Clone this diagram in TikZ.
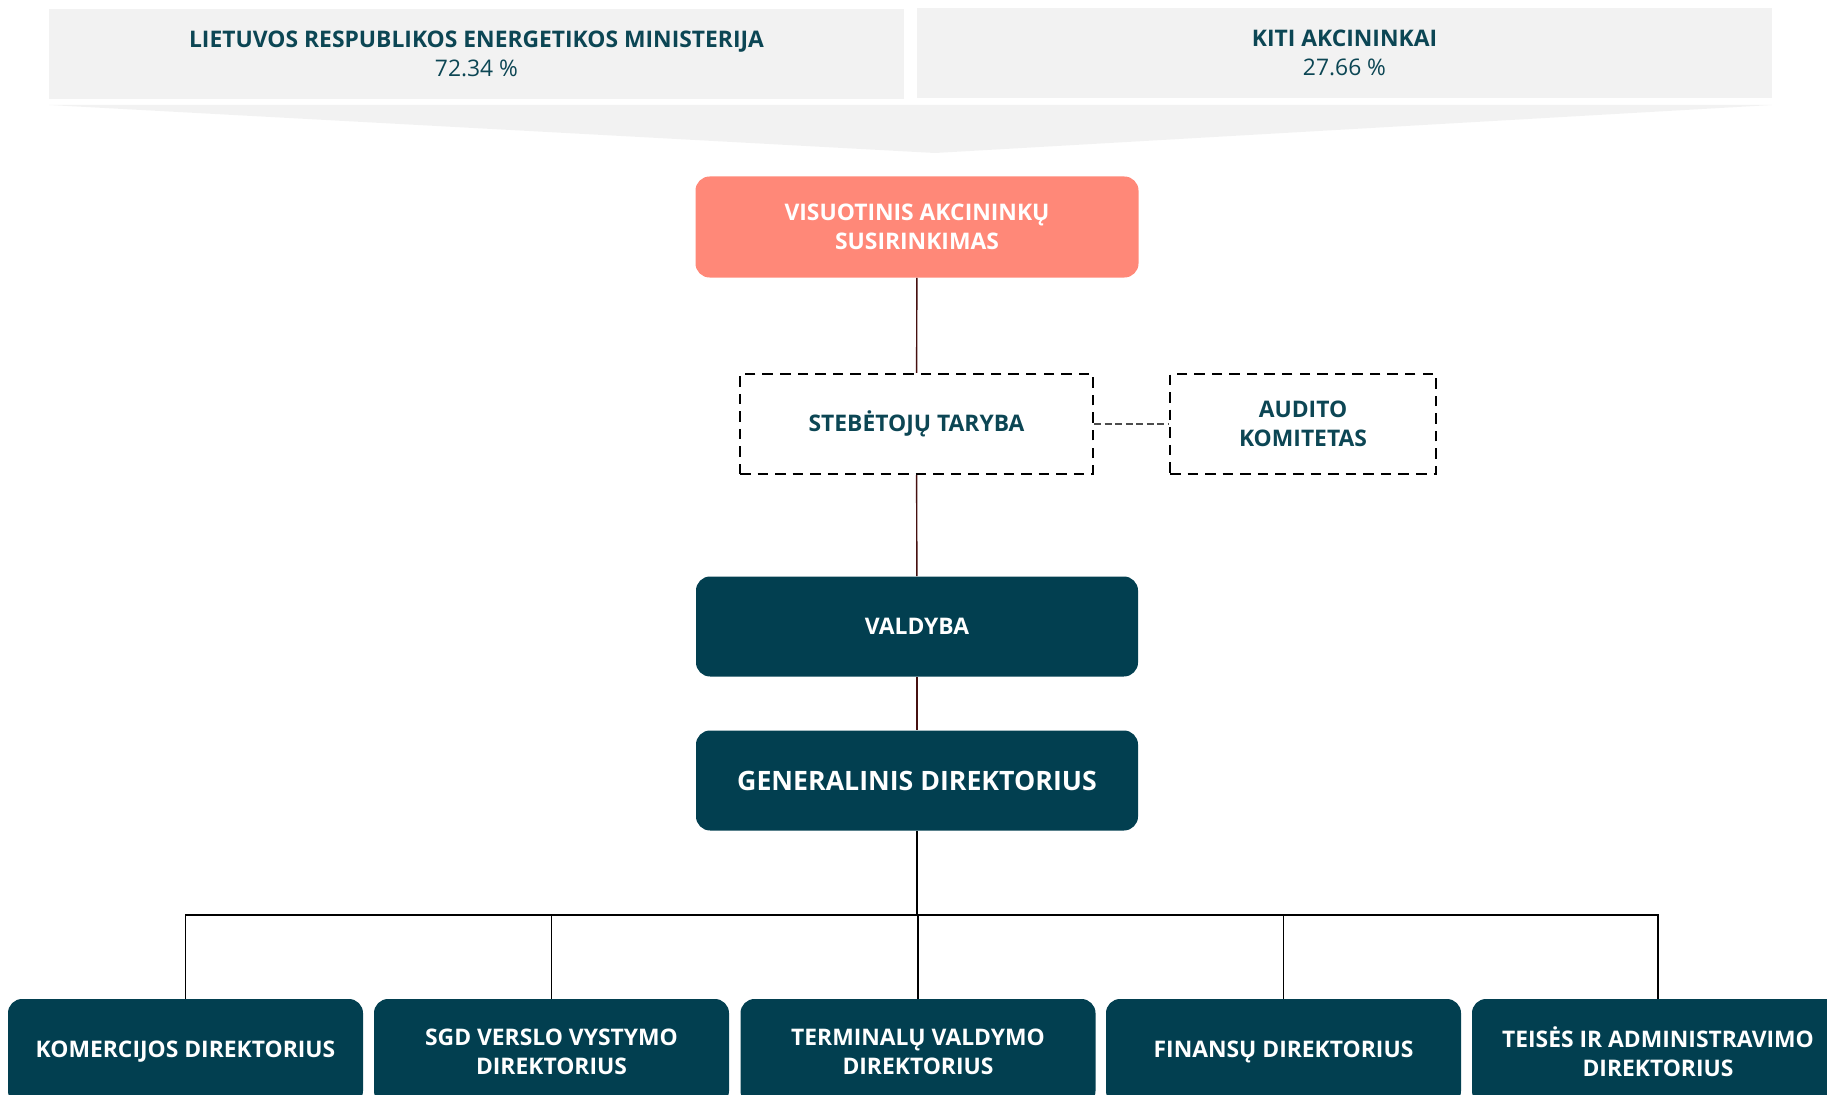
\documentclass[tikz,border=0pt]{standalone}
\usepackage{fontspec}
\setmainfont{Open Sans}
\usetikzlibrary{positioning}
\usetikzlibrary{calc}

\definecolor{greybg}{RGB}{242,242,242}
\definecolor{tealtext}{RGB}{12,70,84}
\definecolor{tealbox}{RGB}{2,63,80}
\definecolor{salmon}{RGB}{255,136,120}
\definecolor{linkred}{RGB}{70,16,16}

\tikzset{
  owner/.style={fill=greybg, text=tealtext, minimum width=855*0.02cm, minimum height=90*0.02cm,
    align=center, inner sep=0pt, font=\fontsize{13}{16.4}\selectfont\bfseries},
  meeting/.style={fill=salmon, text=white, rounded corners=8pt, minimum width=443*0.02cm,
    minimum height=101*0.02cm, align=center, font=\fontsize{13}{16.4}\selectfont\bfseries},
  council/.style={draw=black, line width=1.3pt, dash pattern=on 6pt off 4pt, text=tealtext,
    minimum height=100*0.02cm, align=center, font=\fontsize{13}{16.4}\selectfont\bfseries},
  darkbox/.style={fill=tealbox, text=white, rounded corners=8pt, minimum width=442*0.02cm,
    minimum height=100*0.02cm, align=center, font=\fontsize{13}{16.4}\selectfont\bfseries},
  dirbox/.style={fill=tealbox, text=white, rounded corners=8pt, minimum width=355*0.02cm,
    minimum height=106*0.02cm, align=center, font=\fontsize{13}{16.4}\selectfont\bfseries},
  link/.style={draw=linkred, line width=0.8pt},
  branch/.style={draw=black, line width=0.6pt}
}

\begin{document}
\begin{tikzpicture}[x=0.02cm, y=-0.02cm]

        % page frame
        \useasboundingbox (0,0) rectangle (1827,1095);
        \clip (0,0) rectangle (1827,1095);

        % shareholders
        \node[owner] (ministry) at (476.5,54) {LIETUVOS RESPUBLIKOS ENERGETIKOS MINISTERIJA\\{\mdseries 72.34 \%}};
        \node[owner] (others) at (1344.5,53) {KITI AKCININKAI\\{\mdseries 27.66 \%}};
        \fill[greybg] (49,105) -- (1772,105) -- (935,153) -- cycle;

        % governing bodies
        \node[meeting] (meeting) at (917,227) {VISUOTINIS AKCININKŲ\\SUSIRINKIMAS};
        \node[council, minimum width=353*0.02cm] (supervisory) at (916.5,424) {STEBĖTOJŲ TARYBA};
        \node[council, minimum width=266*0.02cm] (audit) at (1303,424) {AUDITO\\KOMITETAS};
        \node[darkbox] (board) at (917,626.5) {VALDYBA};
        \node[darkbox, font=\fontsize{15.2}{19}\selectfont\bfseries] (ceo) at (917,780.5) {GENERALINIS DIREKTORIUS};

        % directors
        \node[dirbox] (dir_com) at (185.5,1052) {KOMERCIJOS DIREKTORIUS};
        \node[dirbox] (dir_sgd) at (551.5,1052) {SGD VERSLO VYSTYMO\\DIREKTORIUS};
        \node[dirbox] (dir_term) at (918,1052) {TERMINALŲ VALDYMO\\DIREKTORIUS};
        \node[dirbox] (dir_fin) at (1283.5,1052) {FINANSŲ DIREKTORIUS};
        \node[dirbox, minimum width=372*0.02cm] (dir_law) at (1658,1052) {TEISĖS IR ADMINISTRAVIMO\\DIREKTORIUS};

        % connectors
        \coordinate (bus) at (917,915);
        \draw[link] (meeting) -- (supervisory);
        \draw[link] (supervisory) -- (board);
        \draw[link] (board) -- (ceo);
        \draw[draw=black!70, line width=0.7pt, dash pattern=on 4pt off 2pt] (supervisory) -- (audit);
        \draw[black, line width=1.1pt] (ceo.south) -- (bus);
        \foreach \d in {dir_com, dir_sgd, dir_term, dir_fin, dir_law}
          \draw[branch] (\d.north) |- (bus);

\end{tikzpicture}
\end{document}
